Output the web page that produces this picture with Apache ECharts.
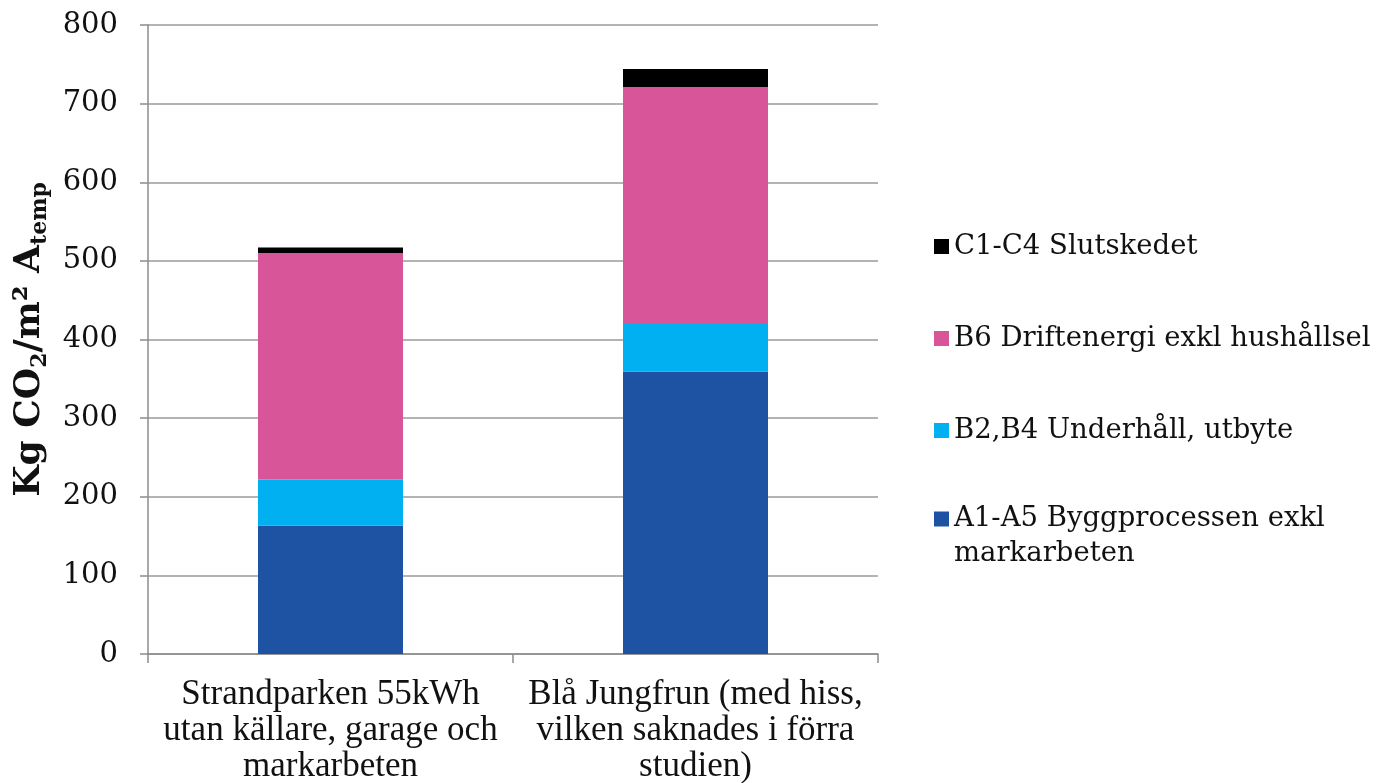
<!DOCTYPE html>
<html><head><meta charset="utf-8">
<script src="https://cdn.jsdelivr.net/npm/echarts@6/dist/echarts.min.js"></script>
<style>html,body{margin:0;padding:0;background:#fff}#c{width:1377px;height:783px}</style>
</head><body><div id="c"></div>
<script>
const categories = ['Strandparken 55kWh\nutan källare, garage och\nmarkarbeten', 'Blå Jungfrun (med hiss,\nvilken saknades i förra\nstudien)'];
const seriesNames = ['A1-A5 Byggprocessen exkl markarbeten', 'B2,B4 Underhåll, utbyte', 'B6 Driftenergi exkl hushållsel', 'C1-C4 Slutskedet'];
const a1a5 = [163, 359];
const b2b4 = [59, 62];
const b6 = [288, 300];
const c1c4 = [7, 23];
const colors = ['#1E52A3', '#00B0F0', '#D9559A', '#000000'];
const yTicks = [0, 100, 200, 300, 400, 500, 600, 700, 800];

const values = [a1a5, b2b4, b6, c1c4];
const serif = 'DejaVu Serif';
const chart = echarts.init(document.getElementById('c'), null, {renderer: 'canvas'});
chart.setOption({
  animation: false,
  grid: {left: 148, top: 25, right: 499, bottom: 129, containLabel: false, outerBoundsMode: 'none'},
  legend: [{
    orient: 'vertical', left: 929, top: 224,
    itemWidth: 15, itemHeight: 15, itemGap: 57, icon: 'rect',
    data: [seriesNames[3], seriesNames[2], seriesNames[1]],
    textStyle: {fontFamily: serif, fontSize: 27.5, color: '#111', lineHeight: 35}
  }, {
    orient: 'vertical', left: 929, top: 465,
    itemWidth: 15, itemHeight: 15, icon: 'rect',
    data: [seriesNames[0]],
    formatter: () => '{t| }\n{t|A1-A5 Byggprocessen exkl}\n{t|markarbeten}',
    textStyle: {fontFamily: serif, fontSize: 27.5, color: '#111',
      rich: {t: {fontFamily: serif, fontSize: 27.5, color: '#111', lineHeight: 35}}}
  }],
  xAxis: {
    type: 'category', data: categories,
    axisLine: {lineStyle: {color: '#8c8c8c', width: 1.5}},
    axisTick: {show: true, length: 9, lineStyle: {color: '#8c8c8c', width: 1.5}},
    axisLabel: {fontFamily: 'Liberation Serif', fontSize: 35, color: '#111', lineHeight: 36, margin: 23, interval: 0}
  },
  yAxis: {
    type: 'value', min: 0, max: 800, interval: 100,
    name: '{a|Kg CO}{s|2}{a|/m² A}{s|temp}',
    nameLocation: 'middle', nameRotate: 90, nameGap: 94,
    nameTextStyle: {
      rich: {
        a: {fontFamily: serif, fontWeight: 'bold', fontSize: 36, color: '#111', lineHeight: 44, verticalAlign: 'middle'},
        s: {fontFamily: serif, fontWeight: 'bold', fontSize: 22, color: '#111', lineHeight: 44, verticalAlign: 'bottom'}
      }
    },
    axisLine: {show: true, lineStyle: {color: '#8c8c8c', width: 1.5}},
    axisTick: {show: true, length: 8, lineStyle: {color: '#8c8c8c', width: 1.5}},
    splitLine: {lineStyle: {color: '#9a9a9a', width: 1.5}},
    axisLabel: {fontFamily: serif, fontSize: 29, color: '#111', margin: 30,
      formatter: v => yTicks.includes(v) ? String(v) : ''}
  },
  series: values.map((d, i) => ({
    name: seriesNames[i], type: 'bar', stack: 'total', data: d,
    barWidth: 145, itemStyle: {color: colors[i]}
  }))
});
</script></body></html>
